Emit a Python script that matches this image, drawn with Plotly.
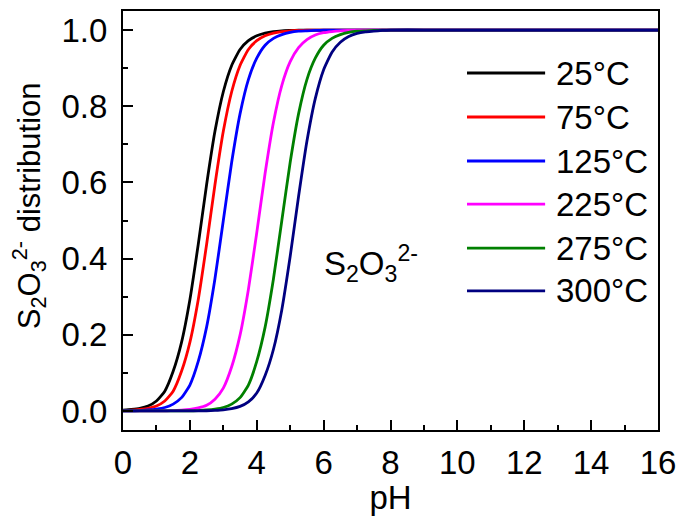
import plotly.graph_objects as go

# pH grid (x values)
ph = [0.0, 0.25, 0.5, 0.75, 1.0, 1.25, 1.5, 1.75, 2.0, 2.25, 2.5, 2.75, 3.0, 3.25, 3.5, 3.75,
      4.0, 4.25, 4.5, 4.75, 5.0, 5.25, 5.5, 5.75, 6.0, 6.25, 6.5, 6.75, 7.0, 7.25, 7.5, 7.75,
      8.0, 9.0, 10.0, 11.0, 12.0, 13.0, 14.0, 15.0, 16.0]

labels = ["25\u00b0C", "75\u00b0C", "125\u00b0C", "225\u00b0C", "275\u00b0C", "300\u00b0C"]
colors = ["#000000", "#FF0000", "#0000FF", "#FF00FF", "#008000", "#000080"]

y_25 = [0.002, 0.004, 0.007, 0.013, 0.026, 0.052, 0.104, 0.180, 0.292, 0.437, 0.594, 0.734,
        0.838, 0.907, 0.949, 0.972, 0.985, 0.992, 0.996, 0.998, 0.999] + [1.0] * 20
y_75 = [0.001, 0.002, 0.004, 0.007, 0.013, 0.026, 0.052, 0.104, 0.180, 0.292, 0.437, 0.594,
        0.734, 0.838, 0.907, 0.949, 0.972, 0.985, 0.992, 0.996, 0.998, 0.999] + [1.0] * 19
y_125 = [0.0, 0.0, 0.001, 0.0025, 0.005, 0.009, 0.018, 0.035, 0.068, 0.130, 0.220, 0.347,
         0.500, 0.653, 0.780, 0.870, 0.926, 0.960, 0.978, 0.988, 0.994, 0.997, 0.998, 0.999] + [1.0] * 17
y_225 = [0.0, 0.0, 0.0, 0.0, 0.0, 0.0, 0.001, 0.002, 0.004, 0.008, 0.015, 0.031,
         0.060, 0.116, 0.199, 0.319, 0.468, 0.624, 0.758, 0.855, 0.917, 0.954, 0.975, 0.987,
         0.993, 0.996, 0.998, 0.999] + [1.0] * 13
y_275 = [0.0, 0.0, 0.0, 0.0, 0.0, 0.0, 0.0, 0.0, 0.0, 0.001, 0.0025, 0.005,
         0.009, 0.018, 0.035, 0.068, 0.130, 0.220, 0.347, 0.500, 0.653, 0.780, 0.870, 0.926,
         0.960, 0.978, 0.988, 0.994, 0.997, 0.998, 0.999] + [1.0] * 10
y_300 = [0.0, 0.0, 0.0, 0.0, 0.0, 0.0, 0.0, 0.0, 0.0, 0.0, 0.0005, 0.0015,
         0.003, 0.006, 0.012, 0.024, 0.047, 0.093, 0.162, 0.266, 0.406, 0.563, 0.708, 0.820,
         0.896, 0.942, 0.968, 0.983, 0.991, 0.995, 0.997, 0.999] + [1.0] * 9

series = [y_25, y_75, y_125, y_225, y_275, y_300]

x_ticks = [0, 2, 4, 6, 8, 10, 12, 14, 16]
y_ticks = [0.0, 0.2, 0.4, 0.6, 0.8, 1.0]
y_ticklabels = ["0.0", "0.2", "0.4", "0.6", "0.8", "1.0"]

FONT = "Arial, Liberation Sans, sans-serif"
FS = 33

fig = go.Figure()
for lab, col, ys in zip(labels, colors, series):
    fig.add_trace(go.Scatter(x=ph, y=ys, mode="lines", name=lab,
                             line=dict(color=col, width=2.8, shape="spline", smoothing=0.5),
                             showlegend=False))

# manual legend (long line samples like the original)
leg_y = [0.852, 0.747, 0.642, 0.539, 0.434, 0.332]
for lab, col, yy in zip(labels, colors, leg_y):
    fig.add_shape(type="line", xref="paper", yref="paper", x0=0.643, x1=0.789, y0=yy, y1=yy,
                  line=dict(color=col, width=2.8))
    fig.add_annotation(xref="paper", yref="paper", x=0.806, y=yy, text=lab, showarrow=False,
                       xanchor="left", yanchor="middle", font=dict(family=FONT, size=FS, color="black"))

fig.add_annotation(xref="paper", yref="paper", x=0.372, y=0.397,
                   text="S<sub>2</sub>O<sub>3</sub><sup>2-</sup>", showarrow=False,
                   xanchor="left", yanchor="middle", font=dict(family=FONT, size=FS, color="black"))

# y-axis title
fig.add_annotation(xref="paper", yref="paper", x=-0.175, y=0.535, textangle=-90,
                   text="S<sub>2</sub>O<sub>3</sub><sup>2-</sup> distribution", showarrow=False,
                   xanchor="center", yanchor="middle", font=dict(family=FONT, size=31, color="black"))

axis_common = dict(showline=True, linecolor="black", linewidth=2, mirror=True,
                   ticks="inside", ticklen=10, tickwidth=2, tickcolor="black",
                   showgrid=False, zeroline=False, automargin=False,
                   tickfont=dict(family=FONT, size=FS, color="black"))

fig.update_xaxes(range=[0, 16], tickvals=x_ticks, ticktext=[str(t) for t in x_ticks],
                 minor=dict(ticks="inside", dtick=1, tick0=0, ticklen=5, tickwidth=2, tickcolor="black"),
                 ticklabelstandoff=2,
                 title=dict(text="pH", font=dict(family=FONT, size=FS, color="black"), standoff=9),
                 **axis_common)
fig.update_yaxes(range=[-0.05, 1.05], tickvals=y_ticks, ticktext=y_ticklabels,
                 minor=dict(ticks="inside", dtick=0.1, tick0=0, ticklen=5, tickwidth=2, tickcolor="black"),
                 ticklabelstandoff=7,
                 **axis_common)

fig.update_layout(width=681, height=516, margin=dict(l=123, r=23, t=11, b=86),
                  plot_bgcolor="white", paper_bgcolor="white", showlegend=False)

fig.write_html("out.html", config={"displayModeBar": False},
               post_script="document.body.style.margin='0';document.body.style.overflow='hidden';")
